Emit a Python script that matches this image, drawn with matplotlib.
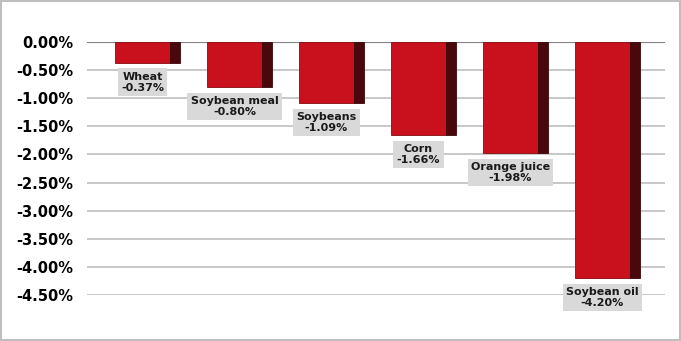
import matplotlib.pyplot as plt
from matplotlib.patches import Rectangle
from matplotlib.ticker import FuncFormatter

categories = ['Wheat', 'Soybean meal', 'Soybeans', 'Corn', 'Orange juice', 'Soybean oil']
changes = [-0.37, -0.80, -1.09, -1.66, -1.98, -4.20]

fig = plt.figure(figsize=(6.81, 3.41), dpi=100)
ax = fig.add_axes([87/681, 1 - 295/341, (665-87)/681, (295-42)/341])

x = list(range(len(categories)))
front_w = 0.6
side_w = 0.11
ax.bar(x, changes, width=front_w, color='#C8111D', edgecolor='#8A0A12', linewidth=0.6, zorder=3)
ax.bar([i + front_w/2 + side_w/2 for i in x], changes, width=side_w, color='#4B080C',
       edgecolor='#3A0508', linewidth=0.6, zorder=3)

for i, (cat, v) in enumerate(zip(categories, changes)):
    ax.annotate(f'{cat}\n{v:.2f}%', xy=(i, v), xytext=(0, -6.5), textcoords='offset points',
                ha='center', va='top', fontsize=8, fontweight='bold', color='#1a1a1a',
                linespacing=1.1,
                bbox=dict(boxstyle='square,pad=0.3', fc='#D9D9D9', ec='none'), zorder=4)

ax.set_ylim(-4.5, 0)
ax.set_xlim(-0.603, 5.68)
ax.set_yticks([-0.5 * k for k in range(10)])
ax.yaxis.set_major_formatter(FuncFormatter(lambda v, p: f'{abs(v):.2f}%' if abs(v) < 1e-9 else f'{v:.2f}%'))
for lab in ax.get_yticklabels():
    lab.set_fontweight('bold')
    lab.set_fontsize(10.5)
ax.tick_params(axis='y', length=0, pad=10)
ax.set_xticks([])
ax.grid(axis='y', color='#BFBFBF', linewidth=1.2, zorder=0)
ax.axhline(0, color='#7F7F7F', linewidth=1.5, zorder=2)
for s in ax.spines.values():
    s.set_visible(False)

fig.patches.append(Rectangle((0.001, 0.002), 0.997, 0.995, transform=fig.transFigure,
                             fill=False, edgecolor='#BFBFBF', linewidth=1.5))

fig.savefig('out.png', dpi=100)
